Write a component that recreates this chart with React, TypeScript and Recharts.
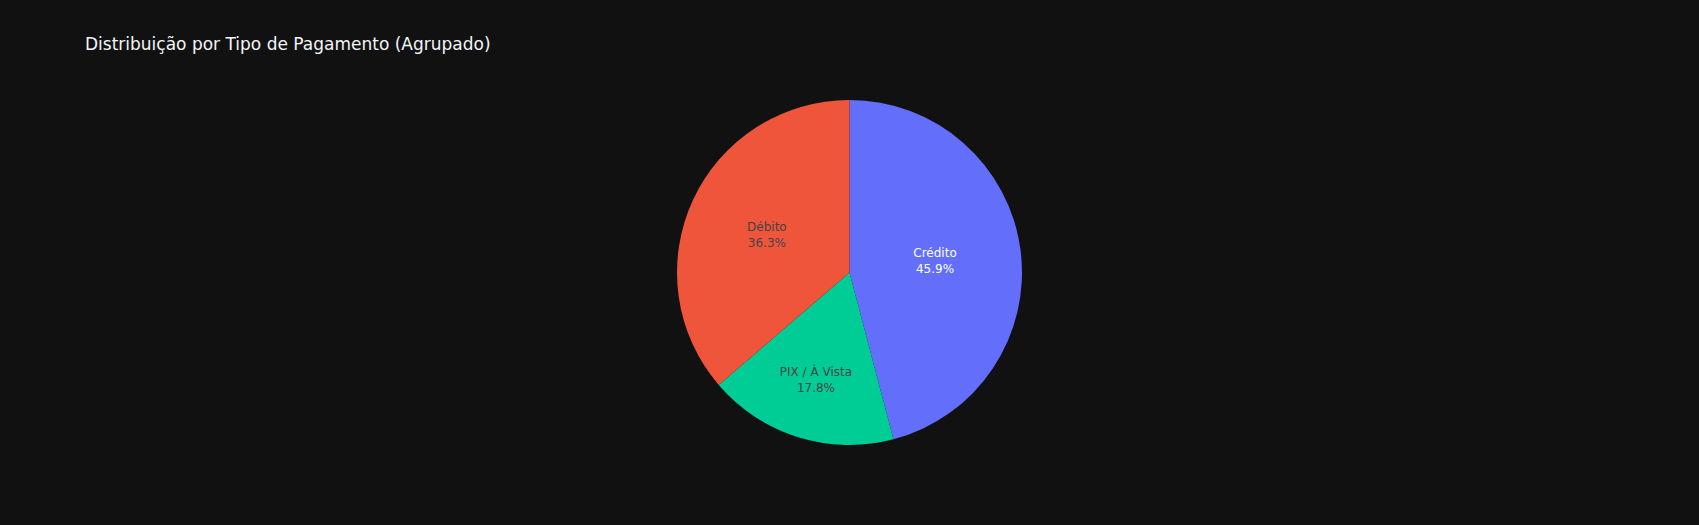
import React from "react";
import { PieChart, Pie, Cell } from "recharts";

const categories = ["Crédito", "PIX / À Vista", "Débito"];
const values = [45.9, 17.8, 36.3];
const colors = ["#636efa", "#00cc96", "#EF553B"];
const textColors = ["#ffffff", "#444444", "#444444"];
const titleText = "Distribuição por Tipo de Pagamento (Agrupado)";

const data = categories.map((name, i) => ({ name, value: values[i] }));
const total = values.reduce((a, b) => a + b, 0);

// relative radius at which each inside label sits (emulates Plotly's fitting)
const labelRadiusFactor: Record<string, number> = {
  "Crédito": 0.5,
  "PIX / À Vista": 0.655,
  "Débito": 0.527,
};

const RADIAN = Math.PI / 180;
const FONT = "'DejaVu Sans', Verdana, sans-serif";

const renderLabel = (props: any) => {
  const { cx, cy, midAngle, outerRadius, index, name, value } = props;
  const f = labelRadiusFactor[name] ?? 0.55;
  const r = outerRadius * f;
  const x = cx + r * Math.cos(-midAngle * RADIAN);
  const y = cy + r * Math.sin(-midAngle * RADIAN);
  const pct = ((value / total) * 100).toFixed(1) + "%";
  const fill = textColors[index];
  const common = {
    x,
    textAnchor: "middle" as const,
    dominantBaseline: "central" as const,
    fill,
    fontFamily: FONT,
    fontSize: 12,
  };
  return (
    <g key={`lbl-${index}`}>
      <text {...common} y={y - 8}>{name}</text>
      <text {...common} y={y + 8}>{pct}</text>
    </g>
  );
};

export default function App() {
  return (
    <div
      style={{
        position: "fixed",
        left: 0,
        top: 0,
        width: 1699,
        height: 525,
        background: "#111111",
        overflow: "hidden",
      }}
    >
      <div
        style={{
          position: "absolute",
          left: 85,
          top: 36,
          fontFamily: FONT,
          fontSize: 17,
          lineHeight: "17px",
          color: "#f2f5fa",
          whiteSpace: "nowrap",
        }}
      >
        {titleText}
      </div>
      <PieChart
        width={1699}
        height={525}
        margin={{ top: 0, right: 0, bottom: 0, left: 0 }}
        style={{ position: "absolute", left: 0, top: 0 }}
      >
        <Pie
          data={data}
          dataKey="value"
          nameKey="name"
          cx={849.5}
          cy={272.5}
          outerRadius={172.5}
          startAngle={90}
          endAngle={-270}
          stroke="none"
          strokeWidth={0}
          label={renderLabel}
          labelLine={false}
          isAnimationActive={false}
        >
          {data.map((d, i) => (
            <Cell key={d.name} fill={colors[i]} stroke="none" />
          ))}
        </Pie>
      </PieChart>
    </div>
  );
}
